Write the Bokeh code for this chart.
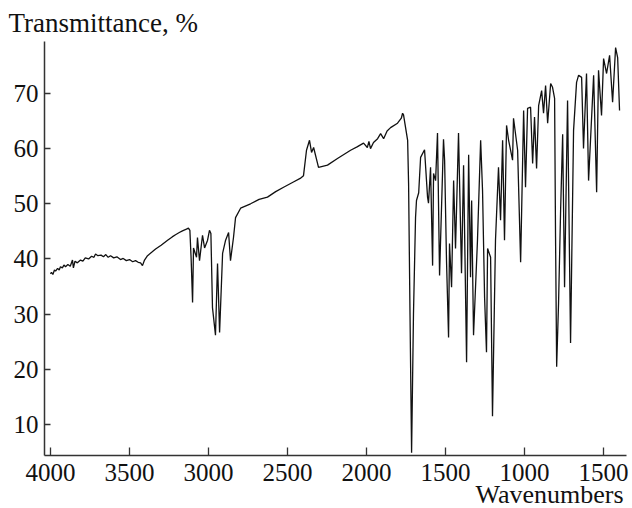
from bokeh.plotting import figure
from bokeh.models import Range1d, FixedTicker, Title
from bokeh.embed import file_html
from bokeh.resources import INLINE

# Spectrum: wavenumber (cm-1) and transmittance (%)
wavenumber = [
    4000, 3994, 3985, 3975, 3968, 3955, 3945, 3937, 3925, 3915, 3905, 3890, 3875, 3861, 3855,
    3845, 3830, 3810, 3795, 3780, 3759, 3740, 3725, 3715, 3700, 3680, 3665, 3650, 3635, 3620,
    3600, 3580, 3557, 3540, 3520, 3500, 3480, 3462, 3445, 3430, 3418, 3405, 3386, 3360, 3335,
    3300, 3259, 3230, 3209, 3185, 3165, 3140, 3127, 3118,
    3110, 3101, 3095, 3076, 3070, 3057, 3038, 3025, 3006, 2994, 2985, 2975, 2956, 2943, 2930,
    2911, 2892, 2873, 2861, 2842, 2829, 2797, 2734, 2680, 2627, 2575, 2525, 2460, 2420, 2399,
    2380, 2361, 2348, 2335, 2304, 2247, 2184, 2101, 2060, 2019, 1995, 1985, 1975, 1956, 1930,
    1911, 1892, 1870, 1848, 1804, 1780, 1772, 1766, 1740, 1734, 1725, 1715, 1703, 1690, 1684,
    1670, 1658, 1633, 1614, 1608, 1595, 1582, 1576, 1563, 1551, 1538, 1513, 1506, 1494, 1481,
    1475, 1462, 1449, 1437, 1418, 1399, 1386, 1367, 1354, 1342, 1335, 1323, 1298, 1278, 1266,
    1253, 1241, 1234, 1215, 1203, 1184, 1165, 1152, 1139, 1127, 1114, 1101, 1076, 1070, 1044,
    1025, 1006, 994, 981, 962, 949, 937, 924, 911, 892, 880, 867, 854, 835, 823,
    810, 804, 797, 785, 772, 759, 747, 728, 709, 690, 671, 658, 639, 627, 608,
    595, 563, 544, 532, 513, 500, 481, 462, 443, 424, 411, 399,
]
transmittance = [
    37.3, 37.6, 37.2, 38.0, 37.8, 38.3, 38.0, 38.6, 38.4, 38.9, 38.6, 39.0, 38.7, 39.8, 38.4,
    39.6, 39.3, 39.8, 39.6, 40.2, 40.0, 40.5, 40.3, 40.9, 40.6, 40.7, 40.4, 40.8, 40.3, 40.6,
    40.2, 40.4, 39.9, 40.1, 39.7, 39.9, 39.5, 39.7, 39.4, 39.3, 38.8, 39.8, 40.6, 41.2, 41.8,
    42.5, 43.4, 44.0, 44.4, 44.8, 45.1, 45.4, 45.6, 45.2,
    40.0, 32.1, 42.0, 40.3, 43.9, 39.7, 44.3, 42.0, 43.4, 45.2, 44.6, 31.2, 26.2, 39.2, 26.7,
    41.0, 43.4, 44.8, 39.7, 43.9, 47.5, 49.2, 50.0, 50.8, 51.2, 52.2, 53.0, 54.0, 54.6, 55.1,
    59.7, 61.5, 59.3, 60.2, 56.6, 57.0, 58.2, 59.7, 60.3, 61.0, 60.2, 61.3, 60.0, 61.1, 61.8,
    62.7, 61.8, 63.2, 63.8, 64.6, 65.5, 66.4, 66.1, 61.5, 53.7, 30.0, 4.9, 30.1, 47.5, 50.6,
    52.0, 58.4, 59.8, 51.2, 50.1, 56.6, 38.8, 55.5, 54.2, 62.8, 37.0, 61.7, 57.9, 39.7, 25.8,
    42.8, 34.9, 54.2, 41.9, 62.8, 37.4, 57.0, 21.3, 58.9, 36.7, 50.6, 26.2, 43.4, 61.5, 52.4,
    33.0, 23.1, 41.9, 40.3, 11.5, 43.4, 56.6, 47.0, 61.5, 43.4, 64.2, 61.5, 57.9, 65.5, 59.7,
    39.4, 66.9, 53.0, 67.3, 67.5, 57.3, 65.7, 56.4, 67.8, 70.5, 66.4, 71.4, 64.6, 71.8, 71.1,
    69.1, 44.0, 20.5, 32.0, 48.8, 62.6, 34.9, 68.7, 24.8, 63.3, 72.0, 73.3, 72.9, 60.0, 73.6,
    54.2, 73.3, 52.1, 74.2, 66.0, 76.3, 73.6, 76.9, 68.4, 78.3, 76.5, 66.9,
]

x_ticks = [4000, 3500, 3000, 2500, 2000, 1500, 1000, 500]
x_tick_labels = ["4000", "3500", "3000", "2500", "2000", "1500", "1000", "1500"]
y_ticks = [10, 20, 30, 40, 50, 60, 70]

SERIF = "Liberation Serif"

p = figure(width=632, height=508, output_backend="svg", toolbar_location=None,
           x_range=Range1d(4038, 355), y_range=Range1d(4.4, 79.4),
           min_border_left=44, min_border_right=6, min_border_top=41, min_border_bottom=53)
p.outline_line_color = None
p.grid.visible = False
p.background_fill_color = "white"
p.border_fill_color = "white"

p.line(wavenumber, transmittance, line_color="#111111", line_width=1.3)

for ax in (p.xaxis[0], p.yaxis[0]):
    ax.axis_line_color = "#333333"
    ax.axis_line_width = 1.5
    ax.major_tick_line_color = "#333333"
    ax.major_tick_line_width = 1.3
    ax.minor_tick_line_color = None
    ax.major_tick_out = 0
    ax.major_label_text_font = SERIF
    ax.major_label_text_font_size = "25px"
    ax.major_label_text_color = "#111111"

p.xaxis.ticker = FixedTicker(ticks=x_ticks)
p.xaxis.major_label_overrides = {t: l for t, l in zip(x_ticks, x_tick_labels)}
p.xaxis.major_tick_in = 8
p.xaxis.major_label_standoff = 8
p.yaxis.ticker = FixedTicker(ticks=y_ticks)
p.yaxis.major_tick_in = 6
p.yaxis.major_label_standoff = 6

p.add_layout(Title(text="Transmittance, %", text_font=SERIF, text_font_size="27px",
                   text_font_style="normal", text_color="#111111", align="left",
                   offset=-36, standoff=8), "above")
p.add_layout(Title(text="Wavenumbers", text_font=SERIF, text_font_size="26px",
                   text_font_style="normal", text_color="#111111", align="right",
                   offset=3, standoff=-11), "below")

open("out.html", "w").write(file_html(p, INLINE))
